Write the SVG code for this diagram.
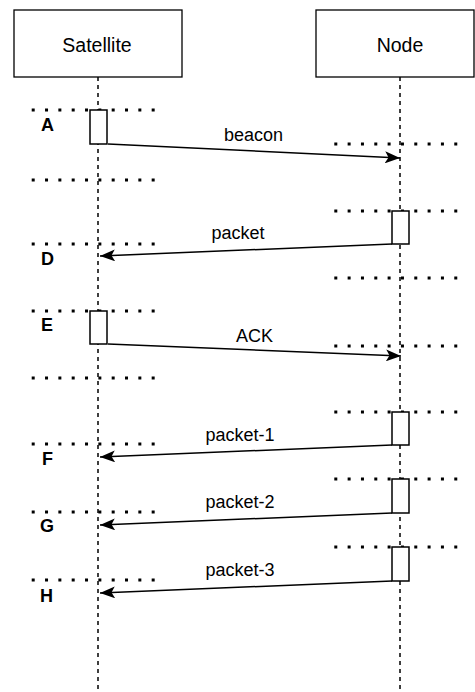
<svg xmlns="http://www.w3.org/2000/svg" width="475" height="692" viewBox="0 0 475 692">
  <style>
    .box { fill: #ffffff; stroke: #000000; stroke-width: 1.3; }
    .act { fill: #ffffff; stroke: #000000; stroke-width: 1.5; }
    .life { stroke: #000000; stroke-width: 1.5; stroke-dasharray: 4 4; fill: none; }
    .dots { stroke: #000000; stroke-width: 3; stroke-dasharray: 3 10.33; fill: none; }
    .msg { stroke: #000000; stroke-width: 1.5; fill: none; marker-end: url(#arrow); }
    .title { font-family: "Liberation Sans", Arial, sans-serif; font-size: 19.5px; text-anchor: middle; fill: #000000; }
    .label { font-family: "Liberation Sans", Arial, sans-serif; font-size: 18px; text-anchor: middle; fill: #000000; }
    .step { font-family: "Liberation Sans", Arial, sans-serif; font-size: 18px; font-weight: bold; fill: #000000; }
  </style>
  <defs>
    <marker id="arrow" viewBox="0 0 15 12" refX="15" refY="6" markerWidth="15" markerHeight="12" markerUnits="userSpaceOnUse" orient="auto">
      <path d="M0,0 L15,6 L0,12 L3.5,6 Z" fill="#000000"/>
    </marker>
  </defs>

  <!-- lifelines -->
  <g id="lifelines">
    <line class="life" x1="98" y1="77" x2="98" y2="692"/>
    <line class="life" x1="400" y1="77" x2="400" y2="692"/>
  </g>

  <!-- time markers: dotted rules -->
  <g id="rules">
    <line class="dots" x1="31.7" y1="110" x2="156" y2="110"/>
    <line class="dots" x1="31.7" y1="180" x2="156" y2="180"/>
    <line class="dots" x1="31.7" y1="244" x2="156" y2="244"/>
    <line class="dots" x1="31.7" y1="311" x2="156" y2="311"/>
    <line class="dots" x1="31.7" y1="378" x2="156" y2="378"/>
    <line class="dots" x1="31.7" y1="444" x2="156" y2="444"/>
    <line class="dots" x1="31.7" y1="512" x2="156" y2="512"/>
    <line class="dots" x1="31.7" y1="580" x2="156" y2="580"/>

    <line class="dots" x1="334.3" y1="144" x2="458" y2="144"/>
    <line class="dots" x1="334.3" y1="211" x2="458" y2="211"/>
    <line class="dots" x1="334.3" y1="278" x2="458" y2="278"/>
    <line class="dots" x1="334.3" y1="346" x2="458" y2="346"/>
    <line class="dots" x1="334.3" y1="412" x2="458" y2="412"/>
    <line class="dots" x1="334.3" y1="479" x2="458" y2="479"/>
    <line class="dots" x1="334.3" y1="547" x2="458" y2="547"/>
  </g>

  <!-- participants -->
  <g id="satellite">
    <rect class="box" x="14" y="10" width="168" height="67"/>
    <text class="title" x="97" y="52">Satellite</text>
  </g>
  <g id="node">
    <rect class="box" x="316" y="10" width="158" height="67"/>
    <text class="title" x="400" y="52">Node</text>
  </g>

  <!-- activations -->
  <g id="act-sat-a"><rect class="act" x="90" y="110" width="17" height="34"/></g>
  <g id="act-sat-e"><rect class="act" x="90" y="311" width="17" height="33"/></g>
  <g id="act-node-1"><rect class="act" x="392" y="211" width="17" height="33"/></g>
  <g id="act-node-2"><rect class="act" x="392" y="412" width="17" height="33"/></g>
  <g id="act-node-3"><rect class="act" x="392" y="479" width="17" height="34"/></g>
  <g id="act-node-4"><rect class="act" x="392" y="547" width="17" height="34"/></g>

  <!-- step letters -->
  <g id="steps">
    <text class="step" x="41" y="131">A</text>
    <text class="step" x="41" y="265">D</text>
    <text class="step" x="41" y="331">E</text>
    <text class="step" x="42" y="465">F</text>
    <text class="step" x="40" y="532">G</text>
    <text class="step" x="40" y="602">H</text>
  </g>

  <!-- messages -->
  <g id="connectors">
    <line class="msg" x1="108" y1="144" x2="400" y2="158"/>
    <line class="msg" x1="392" y1="244" x2="100" y2="256"/>
    <line class="msg" x1="108" y1="344" x2="401" y2="356"/>
    <line class="msg" x1="392" y1="445" x2="100" y2="457"/>
    <line class="msg" x1="392" y1="513" x2="100" y2="525"/>
    <line class="msg" x1="392" y1="581" x2="100" y2="593"/>

    <text class="label" x="253.5" y="141">beacon</text>
    <text class="label" x="238" y="239">packet</text>
    <text class="label" x="254.5" y="341.5">ACK</text>
    <text class="label" x="240" y="440.5">packet-1</text>
    <text class="label" x="240" y="508">packet-2</text>
    <text class="label" x="240" y="576">packet-3</text>
  </g>
</svg>
